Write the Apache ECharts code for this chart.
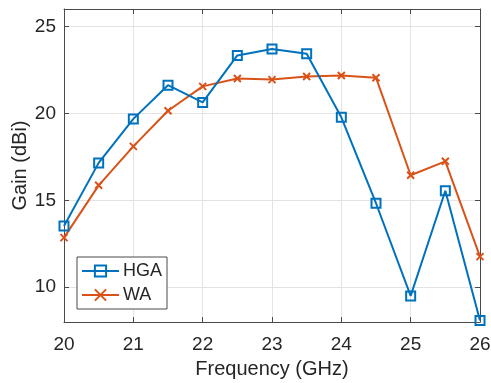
<!DOCTYPE html>
<html>
<head>
<meta charset="utf-8">
<script src="https://cdn.jsdelivr.net/npm/echarts@6/dist/echarts.min.js"></script>
<style>
  html, body { margin: 0; padding: 0; background: #fff; }
  #chart { width: 491px; height: 383px; }
</style>
</head>
<body>
<div id="chart"></div>
<script>
// Antenna gain versus frequency
const frequencies = [20, 20.5, 21, 21.5, 22, 22.5, 23, 23.5, 24, 24.5, 25, 25.5, 26];
const gainHGA = [13.52, 17.15, 19.68, 21.62, 20.63, 23.33, 23.70, 23.43, 19.77, 14.83, 9.50, 15.55, 8.08];
const gainWA  = [12.85, 15.86, 18.10, 20.15, 21.55, 22.00, 21.94, 22.12, 22.18, 22.05, 16.44, 17.24, 11.76];
const xTicks = [20, 21, 22, 23, 24, 25, 26];
const yTicks = [10, 15, 20, 25];

const textColor = '#262626';
const axisColor = '#4a4a4a';
const font = 'Liberation Sans, Arial, Helvetica, sans-serif';

const chart = echarts.init(document.getElementById('chart'), null, { renderer: 'canvas' });

const pair = (ys) => frequencies.map((f, i) => [f, ys[i]]);

const crossPath = 'path://M0,0L10,10M10,0L0,10';

const baseX = {
  type: 'value', min: 20, max: 26, interval: 1,
  axisLine: { show: true, onZero: false, lineStyle: { color: axisColor, width: 1 } },
  axisTick: { show: true, inside: true, length: 5, lineStyle: { color: axisColor },
              customValues: xTicks },
  splitLine: { show: false }
};
const baseY = {
  type: 'value', min: 8, max: 26,
  axisLine: { show: true, onZero: false, lineStyle: { color: axisColor, width: 1 } },
  axisTick: { show: true, inside: true, length: 5, lineStyle: { color: axisColor },
              customValues: yTicks },
  splitLine: { show: false }
};

chart.setOption({
  animation: false,
  backgroundColor: '#fff',
  grid: { left: 64, right: 11, top: 9, bottom: 61, containLabel: false,
          outerBoundsMode: 'none' },
  xAxis: [
    Object.assign({}, baseX, {
      position: 'bottom',
      name: 'Frequency (GHz)', nameLocation: 'middle', nameGap: 37,
      nameMoveOverlap: false,
      nameTextStyle: { color: textColor, fontSize: 20, fontFamily: font },
      axisLabel: { color: textColor, fontSize: 19, fontFamily: font, margin: 13,
                   customValues: xTicks },
      splitLine: { show: true, lineStyle: { color: '#e3e3e3', width: 1 } }
    }),
    Object.assign({}, baseX, { position: 'top', axisLabel: { show: false } })
  ],
  yAxis: [
    Object.assign({}, baseY, {
      position: 'left',
      name: 'Gain (dBi)', nameLocation: 'middle', nameGap: 34,
      nameMoveOverlap: false,
      nameTextStyle: { color: textColor, fontSize: 20, fontFamily: font },
      axisLabel: { color: textColor, fontSize: 19, fontFamily: font, margin: 8,
                   customValues: yTicks },
      splitLine: { show: true, lineStyle: { color: '#e3e3e3', width: 1 } }
    }),
    Object.assign({}, baseY, { position: 'right', axisLabel: { show: false } })
  ],
  legend: {
    orient: 'vertical',
    left: 77, top: 257,
    width: 88,
    padding: [5, 5, 5, 4],
    itemGap: 6,
    itemWidth: 37, itemHeight: 14,
    backgroundColor: '#fff',
    borderColor: '#4a4a4a', borderWidth: 1, borderRadius: 0,
    textStyle: { color: textColor, fontSize: 18, fontFamily: font, padding: [0, 0, 0, -1] },
    data: ['HGA', 'WA']
  },
  series: [
    {
      name: 'HGA', type: 'line', data: pair(gainHGA),
      xAxisIndex: 0, yAxisIndex: 0,
      symbol: 'rect', symbolSize: 9, showAllSymbol: true,
      lineStyle: { color: '#0072BD', width: 2 },
      itemStyle: { color: 'rgba(255,255,255,0)', borderColor: '#0072BD', borderWidth: 2 },
      clip: false, z: 3
    },
    {
      name: 'WA', type: 'line', data: pair(gainWA),
      xAxisIndex: 0, yAxisIndex: 0,
      symbol: crossPath, symbolSize: 7, showAllSymbol: true,
      lineStyle: { color: '#D95319', width: 2 },
      itemStyle: { color: 'rgba(255,255,255,0)', borderColor: '#D95319', borderWidth: 2 },
      clip: false, z: 2
    }
  ]
});
</script>
</body>
</html>
